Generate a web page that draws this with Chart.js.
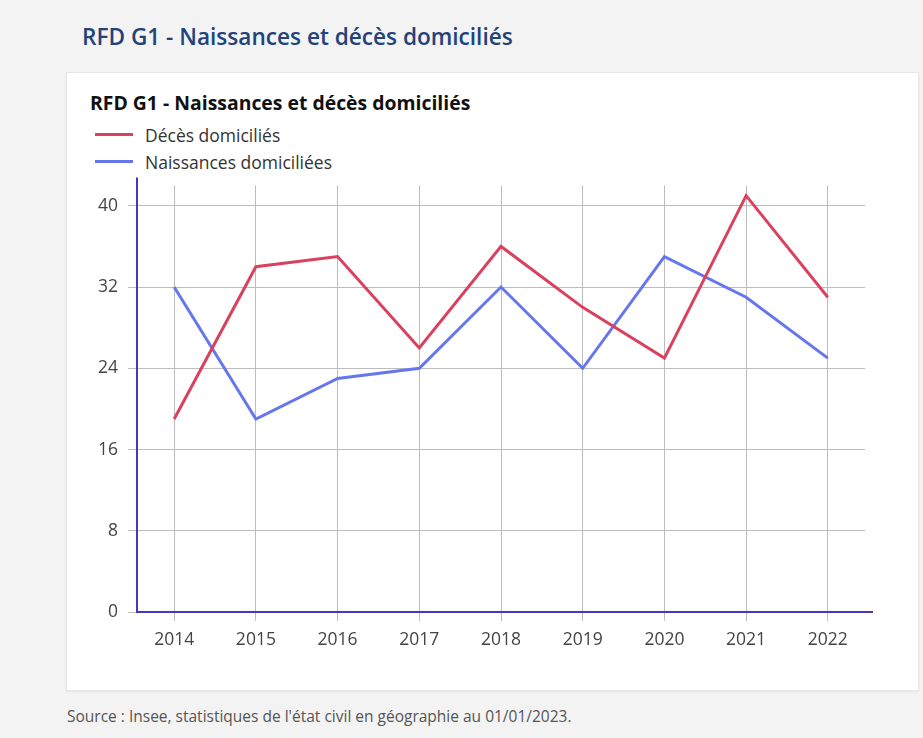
<!DOCTYPE html>
<html lang="fr">
<head>
<meta charset="utf-8">
<title>RFD G1 - Naissances et décès domiciliés</title>
<script src="https://cdn.jsdelivr.net/npm/chart.js@4.4.0/dist/chart.umd.min.js"></script>
<style>
    html, body { margin: 0; padding: 0; }
    body {
        width: 923px; height: 738px; position: relative; overflow: hidden;
        background: #f3f3f3; font-family: 'Open Sans', sans-serif;
    }
    .page-title {
        position: absolute; left: 82px; top: 21px; margin: 0;
        font-size: 22.6px; font-weight: 600; color: #24427a; white-space: nowrap;
    }
    .card {
        position: absolute; left: 66px; top: 72px; width: 851px; height: 617px;
        background: #fff; border: 1px solid #e6e6e6; box-shadow: 0 1px 2px rgba(0,0,0,0.06);
    }
    .chart-title {
        position: absolute; left: 90px; top: 89px; margin: 0;
        font-size: 19.4px; font-weight: 700; color: #111; white-space: nowrap;
    }
    .legend { position: absolute; left: 95px; top: 121px; }
    .legend-item { display: flex; align-items: center; height: 27px; font-size: 17.5px; color: #333; }
    .legend-item span.swatch { display: inline-block; width: 38px; height: 3px; margin-right: 12px; }
    .chart-box { position: absolute; left: 80px; top: 165px; width: 820px; height: 495px; }
    .source {
        position: absolute; left: 67px; top: 705px; margin: 0;
        font-size: 15.5px; color: #555; white-space: nowrap;
    }
</style>
</head>
<body>
<h1 class="page-title">RFD G1 - Naissances et décès domiciliés</h1>
<div class="card"></div>
<h2 class="chart-title">RFD G1 - Naissances et décès domiciliés</h2>
<div class="legend" id="legend"></div>
<div class="chart-box"><canvas id="rfdChart"></canvas></div>
<p class="source">Source : Insee, statistiques de l'état civil en géographie au 01/01/2023.</p>

<script>
// --- données ---
const years = [2014, 2015, 2016, 2017, 2018, 2019, 2020, 2021, 2022];
const deces = [19, 34, 35, 26, 36, 30, 25, 41, 31];
const naissances = [32, 19, 23, 24, 32, 24, 35, 31, 25];
const yTicks = [0, 8, 16, 24, 32, 40];

const seriesNames = ['Décès domiciliés', 'Naissances domiciliées'];
const seriesColors = ['#d9415f', '#6677ee'];
const axisColor = '#4536c4';
const gridColor = '#bdbdbd';

// legende html (deux lignes empilees)
const legendBox = document.getElementById('legend');
seriesNames.forEach((name, i) => {
    const row = document.createElement('div');
    row.className = 'legend-item';
    row.innerHTML = `<span class="swatch" style="background:${seriesColors[i]}"></span>${name}`;
    legendBox.appendChild(row);
});

// axes prolonges au-dela de la zone de trace
const axisLines = {
    id: 'axisLines',
    afterDatasetsDraw(chart) {
        const { ctx, chartArea } = chart;
        ctx.save();
        ctx.strokeStyle = axisColor;
        ctx.lineWidth = 2;
        ctx.beginPath();
        ctx.moveTo(chartArea.left, chartArea.top - 8);
        ctx.lineTo(chartArea.left, chartArea.bottom);
        ctx.lineTo(chartArea.right + 8, chartArea.bottom);
        ctx.stroke();
        ctx.restore();
    }
};

const toPoints = vals => vals.map((v, i) => ({ x: years[i], y: v }));

new Chart(document.getElementById('rfdChart').getContext('2d'), {
    type: 'line',
    data: {
        datasets: [
            {
                label: seriesNames[0],
                data: toPoints(deces),
                borderColor: seriesColors[0],
                borderWidth: 3,
                pointRadius: 0,
                tension: 0
            },
            {
                label: seriesNames[1],
                data: toPoints(naissances),
                borderColor: seriesColors[1],
                borderWidth: 3,
                pointRadius: 0,
                tension: 0
            }
        ]
    },
    options: {
        responsive: true,
        maintainAspectRatio: false,
        animation: false,
        layout: { padding: { top: 11, right: 35, left: 0, bottom: 0 } },
        plugins: {
            legend: { display: false },
            title: { display: false },
            tooltip: { enabled: false }
        },
        scales: {
            x: {
                type: 'linear',
                min: years[0] - 0.455,
                max: years[years.length - 1] + 0.455,
                afterBuildTicks: scale => { scale.ticks = years.map(v => ({ value: v })); },
                afterFit: scale => { scale.height = 48; },
                grid: { color: gridColor, lineWidth: 1, tickLength: 9, drawTicks: true },
                border: { display: false },
                ticks: {
                    includeBounds: false,
                    padding: 9,
                    color: '#444',
                    font: { family: 'Open Sans', size: 17.5 },
                    callback: v => String(v)
                }
            },
            y: {
                min: 0,
                max: 42,
                afterBuildTicks: scale => { scale.ticks = yTicks.map(v => ({ value: v })); },
                afterFit: scale => { scale.width = 57; },
                grid: { color: gridColor, lineWidth: 1, tickLength: 9, drawTicks: true },
                border: { display: false },
                ticks: {
                    padding: 10,
                    color: '#444',
                    font: { family: 'Open Sans', size: 17.5 }
                }
            }
        }
    },
    plugins: [axisLines]
});
</script>
</body>
</html>
